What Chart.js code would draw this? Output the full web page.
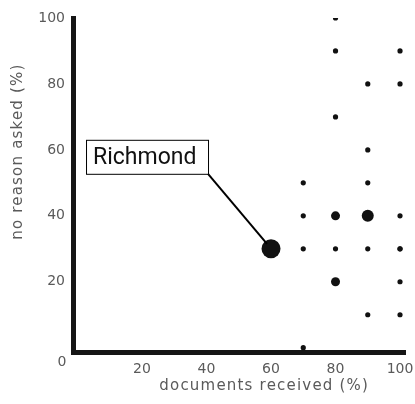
<!DOCTYPE html>
<html>
<head>
<meta charset="utf-8">
<script src="https://cdn.jsdelivr.net/npm/chart.js@4/dist/chart.umd.min.js"></script>
<style>
  html, body { margin: 0; padding: 0; background: #fff; }
  #wrap { width: 415px; height: 404px; }
</style>
</head>
<body>
<div id="wrap"><canvas id="chart" width="415" height="404"></canvas></div>
<script>
// Data
const docsReceived = [70, 70, 70, 70, 80, 80, 80, 80, 80, 80, 90, 90, 90, 90, 90, 90, 100, 100, 100, 100, 100, 100, 100];
const noReasonAsked = [50, 40, 30, 0, 100, 90, 70, 40, 30, 20, 80, 60, 50, 40, 30, 10, 90, 80, 40, 30, 20, 10, 30];
const counts = [1, 1, 1, 1, 1, 1, 1, 2, 1, 2, 1, 1, 1, 3, 1, 1, 1, 1, 1, 1, 1, 1, 1];

const highlightName = 'Richmond';
const highlightX = [60];
const highlightY = [30];
const highlightCount = [4];

const xTicks = [0, 20, 40, 60, 80, 100];
const yTicks = [0, 20, 40, 60, 80, 100];

const xTitle = 'documents received (%)';
const yTitle = 'no reason asked (%)';

const radiusFor = c => [0, 2.6, 4.5, 6, 9.5][c];

const tickFont = { family: 'DejaVu Sans', size: 14 };
const tickColor = '#5a5a5a';

// labelled box + leader line, axis titles and the shared "0" at the origin
const calloutPlugin = {
    id: 'callout',
    afterDatasetsDraw(chart) {
        const ctx = chart.ctx;
        const area = chart.chartArea;
        const pt = chart.getDatasetMeta(1).data[0];
        const bx = pt.x - 185, by = pt.y - 109, bw = 122, bh = 34;
        ctx.save();
        ctx.strokeStyle = '#000';
        ctx.lineWidth = 2;
        ctx.beginPath();
        ctx.moveTo(bx + bw, by + bh);
        ctx.lineTo(pt.x - 4, pt.y - 5);
        ctx.stroke();
        ctx.fillStyle = '#fff';
        ctx.fillRect(bx, by, bw, bh);
        ctx.lineWidth = 1;
        ctx.strokeRect(bx + 0.5, by + 0.5, bw, bh);
        ctx.fillStyle = '#111';
        ctx.font = '400 23px Roboto';
        ctx.textBaseline = 'middle';
        ctx.fillText(highlightName, bx + 7, by + bh / 2 + 1);

        // origin label
        ctx.fillStyle = tickColor;
        ctx.font = '14px "DejaVu Sans"';
        ctx.textAlign = 'center';
        ctx.fillText('0', area.left - 11, area.bottom + 10);

        // axis titles
        ctx.font = '15px "DejaVu Sans"';
        ctx.letterSpacing = '1.2px';
        ctx.fillText(xTitle, area.left + (area.right - area.left) * 0.575, chart.height - 18);
        ctx.translate(18, area.top + (area.bottom - area.top) * 0.4);
        ctx.rotate(-Math.PI / 2);
        ctx.fillText(yTitle, 0, 0);
        ctx.restore();
    }
};

const mainPoints = docsReceived.map((x, i) => ({ x: x, y: noReasonAsked[i], r: radiusFor(counts[i]) }));
const highlightPoints = highlightX.map((x, i) => ({ x: x, y: highlightY[i], r: radiusFor(highlightCount[i]) }));

new Chart(document.getElementById('chart'), {
    type: 'bubble',
    data: {
        datasets: [{
            label: 'councils',
            data: mainPoints,
            backgroundColor: '#111',
            borderColor: '#111',
            borderWidth: 0
        }, {
            label: highlightName,
            data: highlightPoints,
            backgroundColor: '#111',
            borderColor: '#111',
            borderWidth: 0
        }]
    },
    options: {
        responsive: false,
        animation: false,
        layout: { padding: { top: 18, right: 5, left: 0, bottom: 0 } },
        plugins: {
            legend: { display: false },
            tooltip: { enabled: false }
        },
        scales: {
            x: {
                type: 'linear',
                min: -1.4,
                max: 101.7,
                afterBuildTicks: scale => { scale.ticks = xTicks.map(v => ({ value: v })); },
                afterFit: scale => {
                    scale.height = 52;
                    scale.paddingLeft = 0;
                    scale.paddingRight = 0;
                },
                grid: { display: false, drawTicks: false },
                border: { display: true, color: '#151515', width: 5 },
                ticks: {
                    color: tickColor,
                    font: tickFont,
                    padding: 9,
                    callback: v => (v === 0 ? '' : v)
                }
            },
            y: {
                type: 'linear',
                min: -1.3,
                max: 100,
                afterBuildTicks: scale => { scale.ticks = yTicks.map(v => ({ value: v })); },
                afterFit: scale => {
                    scale.width = 73;
                    scale.paddingTop = 0;
                    scale.paddingBottom = 0;
                },
                grid: { display: false, drawTicks: false },
                border: { display: true, color: '#151515', width: 5 },
                ticks: {
                    color: tickColor,
                    font: tickFont,
                    padding: 8,
                    callback: v => (v === 0 ? '' : v)
                }
            }
        }
    },
    plugins: [calloutPlugin]
});
</script>
</body>
</html>
